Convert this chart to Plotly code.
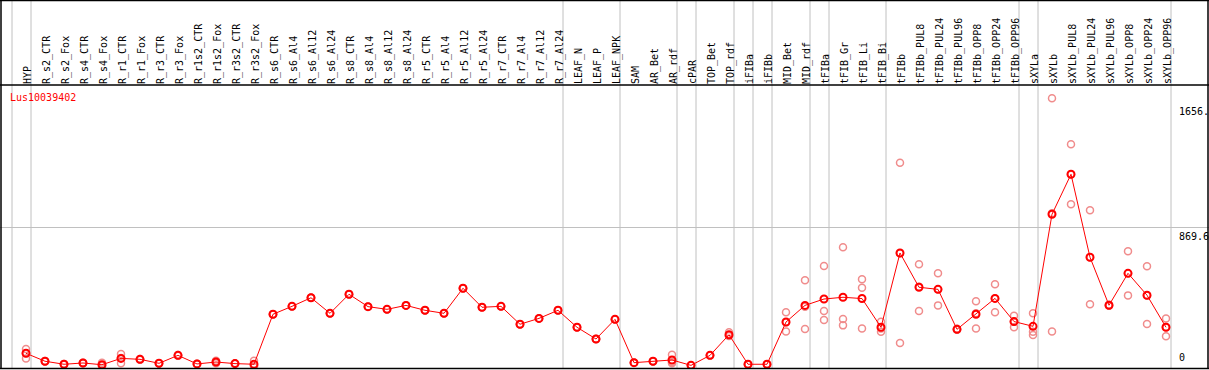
import plotly.graph_objects as go

samples = ["HYP", "R_s2_CTR", "R_s2_Fox", "R_s4_CTR", "R_s4_Fox", "R_r1_CTR", "R_r1_Fox",
           "R_r3_CTR", "R_r3_Fox", "R_r1s2_CTR", "R_r1s2_Fox", "R_r3s2_CTR", "R_r3s2_Fox",
           "R_s6_CTR", "R_s6_Al4", "R_s6_Al12", "R_s6_Al24", "R_s8_CTR", "R_s8_Al4", "R_s8_Al12",
           "R_s8_Al24", "R_r5_CTR", "R_r5_Al4", "R_r5_Al12", "R_r5_Al24", "R_r7_CTR", "R_r7_Al4",
           "R_r7_Al12", "R_r7_Al24", "LEAF_N", "LEAF_P", "LEAF_NPK", "SAM", "AR_Bet", "AR_rdf",
           "cPAR", "TOP_Bet", "TOP_rdf", "iFIBa", "iFIBb", "MID_Bet", "MID_rdf", "tFIBa",
           "tFIB_Gr", "tFIB_Li", "tFIB_Bi", "tFIBb", "tFIBb_PUL8", "tFIBb_PUL24", "tFIBb_PUL96",
           "tFIBb_OPP8", "tFIBb_OPP24", "tFIBb_OPP96", "sXYLa", "sXYLb", "sXYLb_PUL8",
           "sXYLb_PUL24", "sXYLb_PUL96", "sXYLb_OPP8", "sXYLb_OPP24", "sXYLb_OPP96"]

mean_values = [80, 30, 11, 19, 8, 48, 42, 17, 67, 13, 25, 15, 11,
               326, 376, 430, 332, 452, 374, 357, 382, 351, 332, 490, 370, 376, 263, 300, 351,
               244, 170, 294, 21, 30, 38, 4, 67, 197, 11, 11, 277, 382, 422, 433, 425, 244,
               712, 496, 483, 231, 326, 426, 280, 250, 956, 1208, 685, 383, 584, 446, 244]

rep1 = [107, 30, 11, 19, 21, 76, 44, 17, 69, 13, 33, 15, 33,
        326, 376, 430, 332, 452, 374, 357, 382, 351, 332, 490, 370, 376, 263, 300, 351,
        244, 170, 294, 21, 30, 71, 4, 67, 212, 11, 11, 338, 540, 630, 748, 546, 279,
        1281, 641, 584, 231, 408, 515, 317, 332, 1687, 1397, 981, 383, 723, 628, 300]
rep2 = [80, 32, 12, 20, 2, 17, 40, 18, 65, 14, 18, 16, 0,
        326, 376, 430, 332, 452, 374, 357, 382, 351, 332, 490, 370, 376, 263, 300, 351,
        244, 170, 294, 21, 30, 25, 4, 67, 190, 11, 11, 218, 233, 347, 296, 493, 216,
        145, 347, 382, 228, 237, 338, 244, 216, 218, 1019, 389, 380, 445, 265, 187]
rep3 = [48, 28, 10, 18, 1, 50, 42, 16, 67, 12, 24, 14, 0,
        326, 376, 430, 332, 452, 374, 357, 382, 351, 332, 490, 370, 376, 263, 300, 351,
        244, 170, 294, 21, 30, 18, 4, 67, 189, 11, 11, 275, 373, 290, 256, 237, 237,
        710, 500, 483, 234, 333, 425, 279, 195, 963, 1208, 685, 386, 584, 445, 245]

group_breaks = [-1, 0, 28, 31, 34, 35, 37, 38, 39, 41, 42, 45, 52, 53, 60]
y_tick_values = [1656, 869.6, 0]
y_tick_labels = ["1656.", "869.6", "0"]
gene_id = "Lus10039402"

W, H = 1209, 370
TOP, BOT = 85, 369
PH = BOT - TOP
x_idx = list(range(len(samples)))

rx = []
ry = []
for reps in (rep1, rep2, rep3):
    rx += x_idx
    ry += reps

fig = go.Figure()
fig.add_trace(go.Scatter(
    x=rx, y=ry, mode="markers",
    marker=dict(symbol="circle-open", size=7, color="#f08c8c", line=dict(width=1.5, color="#f08c8c")),
    hoverinfo="skip", showlegend=False))
fig.add_trace(go.Scatter(
    x=x_idx, y=mean_values, mode="lines+markers",
    line=dict(color="#ff0000", width=1),
    marker=dict(symbol="circle-open", size=7, color="#ff0000", line=dict(width=2, color="#ff0000")),
    showlegend=False))

mono = "DejaVu Sans Mono, monospace"
shapes = []
py_top = BOT / PH
for b in group_breaks:
    shapes.append(dict(type="line", xref="x", yref="paper", x0=b + 5 / 19, x1=b + 5 / 19,
                       y0=0, y1=py_top, line=dict(color="#c0c0c0", width=1), layer="below"))

def hline(py):
    p = (BOT - py) / PH
    return dict(type="line", xref="paper", yref="paper", x0=0, x1=1, y0=p, y1=p,
                line=dict(color="black", width=1.5))

def vline(px):
    p = px / W
    return dict(type="line", xref="paper", yref="paper", x0=p, x1=p, y0=0, y1=py_top,
                line=dict(color="black", width=1.5))

shapes += [hline(0.5), hline(85), hline(368.5), vline(1), vline(1208)]

annotations = [dict(text=gene_id, xref="paper", yref="paper", x=8 / W, y=(BOT - 97) / PH,
                    xanchor="left", yanchor="middle", showarrow=False,
                    font=dict(family=mono, size=10, color="#ff0000"))]
for v, t in zip(y_tick_values, y_tick_labels):
    annotations.append(dict(text=t, xref="paper", yref="y", x=1177 / W, y=v,
                            xanchor="left", yanchor="bottom" if v == 0 else "top",
                            yshift=1 if v == 0 else -1,
                            showarrow=False, font=dict(family=mono, size=10, color="black")))

fig.update_layout(
    width=W, height=H,
    margin=dict(l=0, r=0, t=TOP, b=H - BOT, pad=0),
    paper_bgcolor="white", plot_bgcolor="white",
    xaxis=dict(range=[-26 / 19, (W - 26) / 19], side="top", tickmode="array",
               tickvals=x_idx, ticktext=samples, tickangle=-90, ticks="",
               ticklabelshift=2,
               tickfont=dict(family=mono, size=10, color="black"),
               showgrid=False, zeroline=False, showline=False),
    yaxis=dict(range=[-18.9, 1770.6], side="right", tickmode="array", tickvals=[869.6],
               showticklabels=False, showgrid=True, gridcolor="#c0c0c0", gridwidth=1,
               zeroline=False, showline=False, ticks=""),
    shapes=shapes, annotations=annotations,
)
fig.write_html("out.html", config={"displayModeBar": False},
               post_script="document.body.style.margin='0';document.body.style.overflow='hidden';")
